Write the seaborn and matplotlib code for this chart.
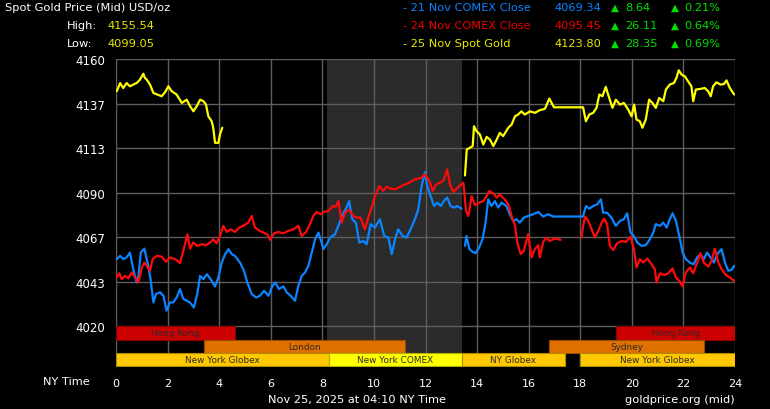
import matplotlib
matplotlib.use("Agg")
import matplotlib.pyplot as plt
import seaborn as sns

# ---- data (hours after midnight NY time, USD/oz) ----
yellow_am_t = [0.03, 0.16, 0.28, 0.41, 0.54, 0.67, 0.80, 0.93, 1.00, 1.06, 1.12, 1.19, 1.32, 1.45,
               1.60, 1.77, 1.90, 2.03, 2.16, 2.35, 2.55, 2.74, 2.87, 3.00, 3.13, 3.26, 3.39, 3.49,
               3.58, 3.71, 3.77, 3.84, 3.97, 4.03, 4.12]
yellow_am_p = [4143.1, 4147.4, 4144.8, 4147.4, 4145.7, 4146.6, 4147.4, 4149.2, 4150.9, 4152.3,
               4150.1, 4149.2, 4146.6, 4142.2, 4141.4, 4140.5, 4142.6, 4145.7, 4143.1, 4141.4,
               4137.0, 4138.7, 4135.3, 4132.6, 4135.3, 4138.7, 4137.9, 4136.1, 4130.0, 4127.4,
               4124.0, 4116.1, 4116.1, 4120.5, 4124.0]

yellow_pm_t = [13.53, 13.60, 13.72, 13.83, 13.88, 13.98, 14.11, 14.24, 14.37, 14.50, 14.63, 14.76,
               14.88, 15.01, 15.21, 15.34, 15.47, 15.59, 15.72, 15.85, 16.05, 16.24, 16.43, 16.63,
               16.73, 16.80, 16.89, 16.98, 18.11, 18.22, 18.35, 18.50, 18.63, 18.74, 18.86, 18.99,
               19.08, 19.25, 19.38, 19.54, 19.69, 19.86, 19.99, 20.09, 20.18, 20.31, 20.41, 20.54,
               20.67, 20.80, 20.93, 21.06, 21.22, 21.32, 21.47, 21.63, 21.73, 21.82, 21.93, 22.06,
               22.18, 22.31, 22.38, 22.48, 22.64, 22.83, 22.96, 23.06, 23.15, 23.28, 23.44, 23.57,
               23.67, 23.80, 23.97]
yellow_pm_p = [4099.0, 4112.6, 4113.5, 4114.4, 4124.8, 4122.2, 4120.5, 4115.2, 4119.2, 4117.8,
               4114.4, 4117.8, 4121.3, 4119.6, 4124.0, 4125.7, 4130.0, 4130.9, 4132.6, 4130.9,
               4132.6, 4131.8, 4133.2, 4133.9, 4137.0, 4139.3, 4137.0, 4134.7, 4134.7, 4127.4,
               4130.9, 4131.8, 4134.4, 4141.4, 4140.5, 4145.4, 4141.4, 4134.4, 4138.7, 4136.1,
               4137.0, 4133.5, 4130.0, 4136.1, 4128.3, 4127.4, 4124.0, 4128.3, 4138.7, 4137.0,
               4134.4, 4139.6, 4137.9, 4144.0, 4146.6, 4147.4, 4150.1, 4154.1, 4151.8, 4150.9,
               4148.3, 4145.7, 4137.9, 4144.0, 4144.3, 4144.8, 4143.1, 4140.5, 4145.7, 4147.8,
               4146.6, 4146.9, 4148.8, 4144.8, 4141.4]

blue_am_t = [0.03, 0.16, 0.28, 0.41, 0.54, 0.67, 0.80, 0.87, 0.96, 1.10, 1.25, 1.34, 1.45, 1.55,
             1.71, 1.84, 1.96, 2.09, 2.22, 2.35, 2.48, 2.61, 2.74, 2.87, 3.02, 3.15, 3.26, 3.39,
             3.52, 3.67, 3.84, 3.97, 4.10, 4.23, 4.36, 4.49, 4.61, 4.81, 4.96, 5.09, 5.26, 5.43,
             5.58, 5.74, 5.91, 6.04, 6.17, 6.32, 6.49, 6.62, 6.77, 6.94, 7.07, 7.20, 7.33, 7.46,
             7.59, 7.72, 7.85, 7.97, 8.04, 8.17, 8.30, 8.49, 8.62, 8.79, 8.94, 9.04, 9.16, 9.30,
             9.43, 9.59, 9.72, 9.87, 10.04, 10.23, 10.40, 10.56, 10.69, 10.82, 10.94, 11.11, 11.27,
             11.42, 11.59, 11.72, 11.85, 11.98, 12.07, 12.20, 12.33, 12.46, 12.59, 12.71, 12.84,
             12.97, 13.10, 13.23, 13.40]
blue_am_p = [4055.2, 4056.9, 4055.2, 4056.1, 4058.6, 4049.9, 4043.0, 4046.4, 4058.6, 4060.7,
             4051.7, 4044.7, 4032.5, 4036.9, 4037.8, 4036.0, 4028.2, 4032.5, 4032.5, 4035.1,
             4039.5, 4034.3, 4033.4, 4032.5, 4029.9, 4036.9, 4046.4, 4044.7, 4047.3, 4044.7,
             4040.9, 4045.6, 4053.4, 4057.8, 4060.4, 4057.8, 4056.9, 4053.4, 4049.1, 4043.0,
             4036.9, 4035.1, 4036.0, 4038.6, 4036.0, 4040.4, 4043.0, 4039.5, 4040.9, 4037.8,
             4036.0, 4033.4, 4041.2, 4046.4, 4048.2, 4051.7, 4058.6, 4065.6, 4069.1, 4063.9,
             4060.4, 4063.0, 4066.5, 4068.2, 4072.6, 4078.7, 4082.2, 4085.6, 4076.1, 4074.3,
             4063.9, 4064.7, 4063.0, 4073.5, 4071.7, 4076.1, 4067.3, 4066.5, 4057.8, 4065.6,
             4070.8, 4067.3, 4066.5, 4070.8, 4076.1, 4081.3, 4093.5, 4100.8, 4093.5, 4088.2,
             4083.0, 4084.8, 4083.0, 4085.6, 4087.4, 4083.0, 4082.2, 4083.0, 4081.6]

blue_pm_t = [13.53, 13.59, 13.70, 13.83, 13.95, 14.08, 14.21, 14.33, 14.43, 14.56, 14.69, 14.82,
             14.95, 15.14, 15.27, 15.40, 15.53, 15.66, 15.81, 15.98, 16.18, 16.37, 16.56, 16.76,
             16.95, 18.11, 18.22, 18.35, 18.50, 18.66, 18.80, 18.89, 19.04, 19.21, 19.38, 19.54,
             19.69, 19.82, 19.95, 20.08, 20.21, 20.38, 20.54, 20.70, 20.83, 20.93, 21.09, 21.22,
             21.35, 21.47, 21.58, 21.71, 21.84, 21.97, 22.09, 22.25, 22.40, 22.53, 22.66, 22.79,
             22.92, 23.05, 23.18, 23.31, 23.48, 23.61, 23.74, 23.87, 23.97]
blue_pm_p = [4062.1, 4067.3, 4060.4, 4059.0, 4058.3, 4061.3, 4065.6, 4074.3, 4086.5, 4083.0,
             4085.6, 4082.2, 4084.8, 4083.0, 4078.7, 4075.2, 4076.1, 4074.3, 4076.9, 4077.8,
             4078.7, 4079.9, 4077.5, 4078.7, 4077.5, 4077.5, 4083.0, 4081.6, 4083.0, 4083.9,
             4086.5, 4079.5, 4079.5, 4076.9, 4072.6, 4075.2, 4076.1, 4079.2, 4069.1, 4067.3,
             4063.9, 4062.1, 4062.5, 4065.6, 4069.1, 4073.5, 4072.6, 4074.3, 4071.7, 4076.1,
             4079.2, 4075.2, 4067.3, 4058.6, 4055.2, 4053.4, 4052.5, 4056.1, 4057.8, 4055.2,
             4058.6, 4056.1, 4053.4, 4057.8, 4060.4, 4053.4, 4049.1, 4049.6, 4051.7]

red_am_t = [0.03, 0.13, 0.22, 0.35, 0.48, 0.61, 0.74, 0.87, 1.00, 1.10, 1.23, 1.32, 1.42, 1.58,
            1.77, 1.94, 2.09, 2.29, 2.48, 2.61, 2.77, 2.87, 3.00, 3.15, 3.32, 3.49, 3.65, 3.77,
            3.90, 4.03, 4.16, 4.29, 4.45, 4.61, 4.78, 4.96, 5.13, 5.26, 5.39, 5.56, 5.71, 5.87,
            5.97, 6.13, 6.29, 6.49, 6.68, 6.88, 7.07, 7.20, 7.37, 7.52, 7.65, 7.78, 7.94, 8.06,
            8.23, 8.40, 8.53, 8.62, 8.75, 8.88, 9.04, 9.20, 9.35, 9.48, 9.65, 9.78, 9.91, 10.04,
            10.21, 10.36, 10.49, 10.65, 10.82, 11.01, 11.20, 11.37, 11.53, 11.68, 11.85, 11.98,
            12.15, 12.28, 12.41, 12.56, 12.71, 12.84, 12.95, 13.08, 13.21, 13.34, 13.47, 13.57,
            13.66, 13.79, 13.92, 14.08, 14.24, 14.37, 14.47, 14.63, 14.76, 14.88, 15.04, 15.21,
            15.34, 15.47, 15.56, 15.69, 15.81, 15.98, 16.11, 16.24, 16.37, 16.43, 16.56, 16.69,
            16.82, 17.02, 17.24]
red_am_p = [4045.6, 4047.8, 4044.7, 4046.4, 4045.1, 4048.2, 4045.6, 4043.0, 4050.8, 4053.4,
            4050.8, 4049.1, 4055.2, 4056.9, 4056.5, 4053.8, 4056.1, 4055.2, 4053.1, 4059.5,
            4068.2, 4060.7, 4063.9, 4062.1, 4063.0, 4062.5, 4063.9, 4065.6, 4063.5, 4067.3,
            4072.6, 4069.4, 4070.8, 4069.4, 4071.7, 4072.9, 4074.3, 4077.8, 4071.7, 4070.0,
            4069.1, 4068.2, 4065.3, 4068.7, 4069.4, 4068.7, 4070.0, 4070.8, 4072.6, 4067.3,
            4069.4, 4073.5, 4077.8, 4079.9, 4078.7, 4079.9, 4080.4, 4083.0, 4082.7, 4085.6,
            4074.3, 4079.5, 4081.0, 4077.8, 4076.9, 4076.9, 4070.8, 4076.9, 4082.2, 4088.2,
            4093.5, 4090.9, 4093.1, 4092.1, 4091.7, 4093.1, 4094.3, 4095.2, 4096.6, 4097.3,
            4097.8, 4099.6, 4096.1, 4090.9, 4094.3, 4095.2, 4096.6, 4102.2, 4094.3, 4090.3,
            4092.1, 4093.8, 4095.2, 4080.4, 4077.8, 4088.2, 4083.4, 4084.8, 4085.6, 4088.2,
            4090.9, 4089.6, 4087.4, 4089.1, 4086.9, 4083.9, 4077.8, 4072.6, 4063.9, 4057.8,
            4059.5, 4068.2, 4056.1, 4060.4, 4062.5, 4056.1, 4064.2, 4066.5, 4064.7, 4066.0,
            4065.3]

red_pm_t = [18.05, 18.11, 18.19, 18.31, 18.44, 18.57, 18.70, 18.83, 18.93, 19.04, 19.15, 19.28,
            19.43, 19.60, 19.77, 19.95, 20.08, 20.18, 20.31, 20.44, 20.60, 20.76, 20.89, 20.96,
            21.09, 21.24, 21.41, 21.58, 21.71, 21.84, 21.97, 22.09, 22.25, 22.38, 22.53, 22.66,
            22.79, 22.96, 23.09, 23.22, 23.35, 23.48, 23.65, 23.80, 23.97]
red_pm_p = [4066.5, 4072.6, 4077.5, 4075.2, 4070.8, 4066.5, 4070.0, 4074.3, 4076.4, 4073.5,
            4062.1, 4060.0, 4063.5, 4064.7, 4064.2, 4067.0, 4060.4, 4050.8, 4055.2, 4053.4,
            4055.5, 4052.5, 4049.9, 4043.0, 4047.8, 4046.8, 4047.8, 4050.3, 4045.6, 4043.8,
            4040.9, 4048.2, 4050.8, 4047.8, 4053.1, 4058.3, 4053.4, 4051.3, 4054.3, 4060.7,
            4053.4, 4049.9, 4046.8, 4045.6, 4043.8]

# trading sessions: (name, start hour, end hour)
row_hk = [("Hong Kong", 0.0, 4.6), ("Hong Kong", 19.4, 24.0)]
row_ldn = [("London", 3.4, 11.2), ("Sydney", 16.8, 22.8)]
row_ny = [("New York Globex", 0.0, 8.25), ("New York COMEX", 8.25, 13.4),
          ("NY Globex", 13.4, 17.4), ("New York Globex", 18.0, 24.0)]

y_ticks = [4020, 4043.33, 4066.67, 4090, 4113.33, 4136.67, 4160]
x_ticks = list(range(0, 25, 2))

legend_rows = [
    ("- 21 Nov COMEX Close", "4069.34", "8.64", "0.21%"),
    ("- 24 Nov COMEX Close", "4095.45", "26.11", "0.64%"),
    ("- 25 Nov Spot Gold", "4123.80", "28.35", "0.69%"),
]

BLUE = "#0a84ff"
RED = "#ff0a0a"
YELLOW = "#ffff00"
GREEN = "#00e000"
GRID = "#5e5e5e"

sns.set_style("dark", {"axes.facecolor": "black", "figure.facecolor": "black"})
plt.rcParams["font.family"] = ["DejaVu Sans"]

fig = plt.figure(figsize=(7.7, 4.1), dpi=100)
ax = fig.add_axes([116 / 770, 1 - 368 / 410, (735 - 116) / 770, (368 - 60) / 410])
ax.set_facecolor("black")

ax.set_xlim(0, 24)
ax.set_ylim(3998.7, 4160)

# COMEX hours shading
ax.axvspan(8.19, 13.4, color="#2b2b2b", zorder=0, lw=0)

for x in x_ticks:
    ax.axvline(x, color=GRID, lw=1, zorder=1)
for y in y_ticks:
    ax.plot([0, 24], [y, y], color=GRID, lw=1, zorder=1)

# session bars
row_h = 6.9
rows = [(row_hk, 4020 - row_h / 2), (row_ldn, 4020 - 1.5 * row_h), (row_ny, 4020 - 2.5 * row_h)]
colors = {"Hong Kong": ("#cc0000", "#8a0000"), "London": ("#e07000", "#9a4c00"),
          "Sydney": ("#e07000", "#9a4c00"), "New York Globex": ("#ffc800", "#b08a00"),
          "NY Globex": ("#ffc800", "#b08a00"), "New York COMEX": ("#ffff00", "#b0b000")}
for row, yc in rows:
    for name, start, end in row:
        fc, ec = colors[name]
        ax.barh(yc, end - start, left=start, height=row_h, color=fc, edgecolor=ec,
                linewidth=0.8, zorder=3)
        ax.text((start + end) / 2, yc, name, ha="center", va="center", fontsize=6.4,
                color="#2a2a2a", zorder=4)

# price lines
for t, p, c in [(blue_am_t, blue_am_p, BLUE), (blue_pm_t, blue_pm_p, BLUE),
                (red_am_t, red_am_p, RED), (red_pm_t, red_pm_p, RED),
                (yellow_am_t, yellow_am_p, YELLOW), (yellow_pm_t, yellow_pm_p, YELLOW)]:
    sns.lineplot(x=t, y=p, color=c, lw=1.6, ax=ax, sort=False, estimator=None, zorder=5)

ax.set_xticks(x_ticks)
ax.set_xticklabels([str(x) for x in x_ticks], color="white", fontsize=8)
ax.set_yticks(y_ticks)
ax.set_yticklabels([f"{y:.0f}" for y in y_ticks], color="white", fontsize=8.5)
ax.tick_params(axis="x", length=0, pad=8)
ax.tick_params(axis="y", length=6, width=1, color=GRID, pad=2)
ax.grid(False)
for s in ax.spines.values():
    s.set_visible(False)
ax.set_xlabel("")
ax.set_ylabel("")


def fx(px):
    return px / 770


def fy(py):
    return 1 - py / 410


fig.text(fx(5), fy(8), "Spot Gold Price (Mid) USD/oz", color="white", fontsize=8.2, va="center")
fig.text(fx(67), fy(26), "High:", color="white", fontsize=8.2, va="center")
fig.text(fx(107), fy(26), "4155.54", color="#e8e800", fontsize=8.2, va="center")
fig.text(fx(67), fy(44), "Low:", color="white", fontsize=8.2, va="center")
fig.text(fx(107), fy(44), "4099.05", color="#e8e800", fontsize=8.2, va="center")

for i, (label, value, chg, pct) in enumerate(legend_rows):
    yy = fy(8 + 18 * i)
    c = [BLUE, "#ee0000", "#e8e800"][i]
    fig.text(fx(403), yy, label, color=c, fontsize=8.2, va="center")
    fig.text(fx(601), yy, value, color=c, fontsize=8.2, va="center", ha="right")
    fig.text(fx(611), yy, "▲", color=GREEN, fontsize=7.5, va="center")
    fig.text(fx(625), yy, chg, color=GREEN, fontsize=8.2, va="center")
    fig.text(fx(671), yy, "▲", color=GREEN, fontsize=7.5, va="center")
    fig.text(fx(684), yy, pct, color=GREEN, fontsize=8.2, va="center")

fig.text(fx(90), fy(382), "NY Time", color="white", fontsize=8.2, va="center", ha="right")
fig.text(fx(268), fy(400), "Nov 25, 2025 at 04:10 NY Time", color="white", fontsize=8.2, va="center")
fig.text(fx(735), fy(400), "goldprice.org (mid)", color="white", fontsize=8.2, va="center", ha="right")

fig.savefig("out.png", dpi=100, facecolor="black")
